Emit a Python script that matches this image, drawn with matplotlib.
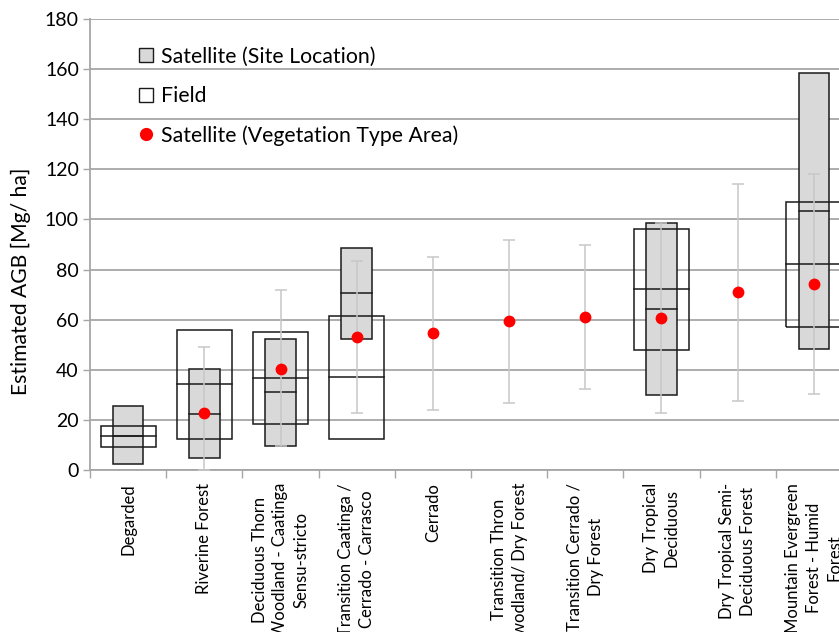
import numpy as np
import matplotlib
matplotlib.use("Agg")
import matplotlib.pyplot as plt
from matplotlib.patches import Rectangle
from matplotlib.lines import Line2D

plt.rcParams['font.family'] = ['Lato', 'DejaVu Sans']

nan = np.nan
categories = ["Degarded", "Riverine Forest",
              "Deciduous Thorn\nWoodland - Caatinga\nSensu-stricto",
              "Transition Caatinga /\nCerrado - Carrasco", "Cerrado",
              "Transition Thron\nwodland/ Dry Forest",
              "Transition Cerrado /\nDry Forest",
              "Dry Tropical\nDeciduous",
              "Dry Tropical Semi-\nDeciduous Forest",
              "Mountain Evergreen\nForest - Humid\nForest"]

sat_low = [2.3, 4.7, 9.6, 52.4, nan, nan, nan, 29.8, nan, 48.2]
sat_mid = [13.6, 22.3, 31.0, 70.6, nan, nan, nan, 64.3, nan, 103.2]
sat_high = [25.5, 40.2, 52.4, 88.7, nan, nan, nan, 98.7, nan, 158.6]

field_low = [9.3, 12.4, 18.4, 12.5, nan, nan, nan, 47.8, nan, 57.2]
field_mid = [13.6, 34.2, 36.7, 37.2, nan, nan, nan, 72.1, nan, 82.1]
field_high = [17.6, 56.0, 55.0, 61.6, nan, nan, nan, 96.3, nan, 107.1]

veg_mean = [nan, 22.8, 40.4, 53.2, 54.6, 59.3, 61.2, 60.8, 70.9, 74.2]
veg_low = [nan, 0.0, 9.4, 22.9, 24.1, 26.9, 32.3, 22.7, 27.5, 30.3]
veg_high = [nan, 49.0, 71.8, 83.3, 85.0, 91.8, 89.8, 98.7, 114.3, 118.0]

W, H = 839, 632
fig = plt.figure(figsize=(W / 100, H / 100), dpi=100)
ax = fig.add_axes([90 / W, (H - 470) / H, 762 / W, 451 / H])
ax.set_xlim(-0.5, 9.5)
ax.set_ylim(0, 180)

edge = '#1a1a1a'
sat_w, field_w = 0.40, 0.72
x = np.arange(len(categories))

for i in x:
    if not np.isnan(sat_low[i]):
        ax.add_patch(Rectangle((i - sat_w / 2, sat_low[i]), sat_w, sat_high[i] - sat_low[i],
                               facecolor='#d9d9d9', edgecolor=edge, lw=1.1, zorder=3))
        ax.plot([i - sat_w / 2, i + sat_w / 2], [sat_mid[i]] * 2, color=edge, lw=1.1, zorder=3)
for i in x:
    if not np.isnan(field_low[i]):
        ax.add_patch(Rectangle((i - field_w / 2, field_low[i]), field_w, field_high[i] - field_low[i],
                               facecolor='none', edgecolor=edge, lw=1.1, zorder=4))
        ax.plot([i - field_w / 2, i + field_w / 2], [field_mid[i]] * 2, color=edge, lw=1.1, zorder=4)

vm = np.array(veg_mean)
err = np.array([vm - np.array(veg_low), np.array(veg_high) - vm])
ax.errorbar(x, vm, yerr=err, fmt='none', ecolor='#c8c8c8', elinewidth=1.1,
            capsize=4, capthick=1.1, zorder=5)
ax.plot(x, vm, 'o', color='#ff0000', ms=8.5, mec='none', zorder=6)

# axes styling
ax.set_yticks(np.arange(0, 181, 20))
ax.yaxis.grid(True, color='#a6a6a6', lw=1.3)
ax.set_axisbelow(True)
for s in ['top', 'right']:
    ax.spines[s].set_visible(False)
for s in ['left', 'bottom']:
    ax.spines[s].set_color('#a6a6a6')
    ax.spines[s].set_linewidth(1.3)
ax.tick_params(axis='y', length=5, color='#a6a6a6', width=1.0, labelsize=14, pad=3,
               labelcolor='#000000')
ax.set_xticks(x)
ax.set_xticklabels([])
ax.tick_params(axis='x', which='major', length=0)
ax.set_xticks(np.arange(-0.5, 9.6, 1), minor=True)
ax.tick_params(axis='x', which='minor', length=6, color='#a6a6a6', width=1.0)

for i, lab in enumerate(categories):
    ax.text(i, -0.029, lab, transform=ax.get_xaxis_transform(), rotation=90,
            ha='center', va='top', multialignment='center', fontsize=12,
            linespacing=1.38)

fig.text(21 / W, 1 - 281 / H, 'Estimated AGB [Mg/ ha]', rotation=90,
         ha='center', va='center', fontsize=15.2)

handles = [
    Line2D([], [], ls='none', marker='s', ms=10, mfc='#d9d9d9', mec=edge, mew=1.0),
    Line2D([], [], ls='none', marker='s', ms=10, mfc='white', mec=edge, mew=1.0),
    Line2D([], [], ls='none', marker='o', ms=9.5, mfc='#ff0000', mec='none'),
]
leg = ax.legend(handles, ['Satellite (Site Location)', 'Field', 'Satellite (Vegetation Type Area)'],
                loc='upper left', bbox_to_anchor=(0.051, 0.957), frameon=False,
                fontsize=15.3, handlelength=0.8, handletextpad=0.3, labelspacing=0.9,
                borderaxespad=0)

fig.savefig('out.png', dpi=100)
